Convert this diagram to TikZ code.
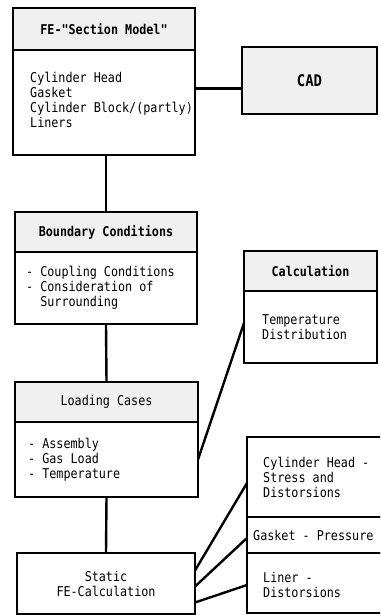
\documentclass[tikz,border=0pt]{standalone}
\usepackage{fontspec}
\usepackage{tikz}
\usetikzlibrary{positioning,calc}
\newfontfamily\diagfont[FakeStretch=0.87]{DejaVu Sans Mono}

\begin{document}
\begin{tikzpicture}[x=1pt, y=-1pt,
    box/.style={draw, line width=1.5pt, outer sep=0pt, inner sep=0pt, font=\diagfont\fontsize{13.5}{15}\selectfont, align=center},
    headbox/.style={box, fill=black!6},
    bodytext/.style={inner sep=0pt, align=left, font=\diagfont\fontsize{13.5}{15}\selectfont},
    link/.style={line width=2.4pt}]
% Frame of the page
\useasboundingbox (0,0) rectangle (380,615);
\clip (0,0) rectangle (380,615);

% Section model
\node[headbox, anchor=north west, minimum width=182pt, minimum height=42pt] (fehead) at (13,8) {\bfseries FE-"Section Model"};
\node[box, below=0pt of fehead, minimum width=182pt, minimum height=105pt] (febody) {};
\node[bodytext, right=17pt of febody.west, yshift=3pt] (fetext) {Cylinder Head\\Gasket\\Cylinder Block/(partly)\\Liners};

% CAD
\node[headbox, anchor=north west, minimum width=135pt, minimum height=67pt, font=\diagfont\fontsize{16}{18}\selectfont\bfseries] (cad) at (242,47) {CAD};

% Boundary conditions
\node[headbox, anchor=north west, minimum width=182pt, minimum height=40pt] (bchead) at (15,212) {\bfseries Boundary Conditions};
\node[box, below=0pt of bchead, minimum width=182pt, minimum height=72pt] (bcbody) {};
\node[bodytext, right=11pt of bcbody.west] (bctext) {- Coupling Conditions\\- Consideration of\\\phantom{- }Surrounding};

% Temperature calculation
\node[headbox, anchor=north west, minimum width=133pt, minimum height=40pt] (calchead) at (244,251) {\bfseries Calculation};
\node[box, below=0pt of calchead, minimum width=133pt, minimum height=72pt] (calcbody) {};
\node[bodytext, right=18pt of calcbody.west] (calctext) {Temperature\\Distribution};

% Loading cases
\node[headbox, anchor=north west, minimum width=183pt, minimum height=40pt] (lchead) at (15,382) {Loading Cases};
\node[box, below=0pt of lchead, minimum width=183pt, minimum height=75pt] (lcbody) {};
\node[bodytext, right=13pt of lcbody.west] (lctext) {- Assembly\\- Gas Load\\- Temperature};

% Static calculation
\node[box, anchor=north west, minimum width=178pt, minimum height=61pt] (static) at (17,553) {Static\\FE-Calculation};

% Results
\node[box, anchor=north west, minimum width=139pt, minimum height=80pt] (chres) at (247,437) {};
\node[box, below=0pt of chres, minimum width=139pt, minimum height=36pt] (gkres) {};
\node[box, below=0pt of gkres, minimum width=139pt, minimum height=60pt] (lnres) {};
\node[bodytext, right=16pt of chres.west] (chtext) {Cylinder Head -\\Stress and\\Distorsions};
\node[bodytext, right=6pt of gkres.west] (gktext) {Gasket - Pressure};
\node[bodytext, right=16pt of lnres.west, yshift=-2pt] (lntext) {Liner -\\Distorsions};

% Connections
\coordinate (cadjoin) at ([yshift=-8pt]cad.west);
\draw[link] (febody.east |- cadjoin) -- (cadjoin);
\draw[link] (bchead.north |- febody.south) -- (bchead.north);
\draw[link] (bcbody.south) -- (lchead.north);
\draw[link] (lcbody.south) -- (static.north);
\draw[link] (lcbody.east) -- ([yshift=4pt]calcbody.west);
\draw[link] ([yshift=13pt]static.east) -- ([yshift=-6pt]chres.west);
\draw[link] ([yshift=-3pt]static.east) -- ([yshift=-3pt]gkres.west);
\draw[link] ([yshift=-19pt]static.east) -- ([yshift=-2pt]lnres.west);

\end{tikzpicture}
\end{document}
